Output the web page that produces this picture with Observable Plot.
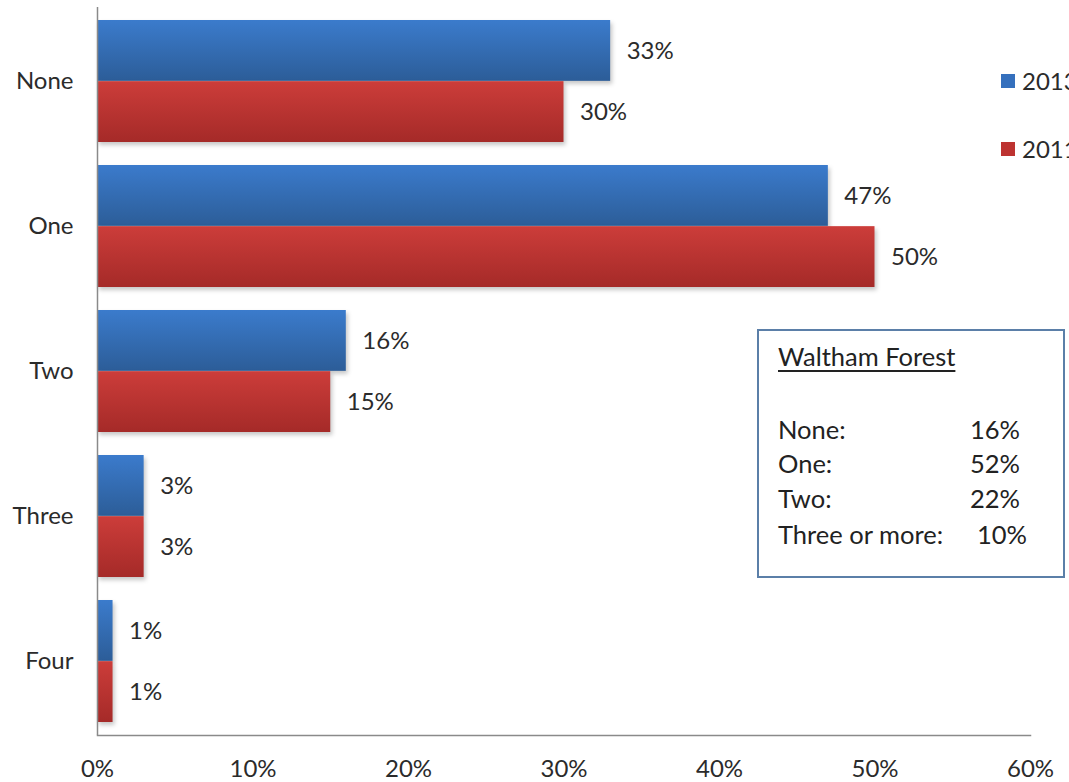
<!DOCTYPE html>
<html>
<head>
<meta charset="utf-8">
<script src="https://cdn.jsdelivr.net/npm/d3@7"></script>
<script src="https://cdn.jsdelivr.net/npm/@observablehq/plot@0.6"></script>
<style>
  html, body { margin: 0; padding: 0; background: #fff; }
  #wrap { position: relative; width: 1069px; height: 782px; overflow: hidden; font-family: Lato, "Open Sans", sans-serif; color: #2b2b2b; }
  .leg { position: absolute; font-size: 24px; line-height: 1; white-space: nowrap; }
  .sw { position: absolute; width: 14px; height: 14px; }
  #box { position: absolute; left: 757px; top: 329px; width: 304px; height: 245px; border: 2px solid #5b7fa8; background: #fff; }
  .bt { position: absolute; font-size: 25.5px; line-height: 1; white-space: nowrap; color: #222; }
</style>
</head>
<body>
<div id="wrap"></div>
<script>
const categories = ["None", "One", "Two", "Three", "Four"];
const series = ["2013", "2011"];
const values2013 = [33, 47, 16, 3, 1];
const values2011 = [30, 50, 15, 3, 1];
const xTicks = [0, 10, 20, 30, 40, 50, 60];
const boxTitle = "Waltham Forest";
const boxLabels = ["None:", "One:", "Two:", "Three or more:"];
const boxValues = ["16%", "52%", "22%", "10%"];

const data = categories.map((c, i) => ({cat: c, v2013: values2013[i], v2011: values2011[i]}));

const W = 1069, H = 782, mT = 7, mB = 47, mL = 97, mR = 39;
const pIn = 0.16, pOut = 0.08;
const step = (H - mT - mB) / (categories.length - pIn + 2 * pOut);
const bw = step * (1 - pIn);
const half = bw / 2;

const plot = Plot.plot({
  width: W, height: H,
  marginTop: mT, marginBottom: mB, marginLeft: mL, marginRight: mR,
  style: {fontFamily: "Lato, 'Open Sans', sans-serif", fontSize: "24px", color: "#2b2b2b", background: "#fff", overflow: "visible"},
  x: {domain: [0, 60]},
  y: {domain: categories, paddingInner: pIn, paddingOuter: pOut},
  marks: [
    Plot.barX(data, {x: "v2013", y: "cat", fill: "url(#g2013)", insetBottom: half}),
    Plot.barX(data, {x: "v2011", y: "cat", fill: "url(#g2011)", insetTop: half}),
    Plot.text(data, {x: "v2013", y: "cat", text: d => d.v2013 + "%", dx: 16, dy: -half / 2, textAnchor: "start", fill: "#2b2b2b"}),
    Plot.text(data, {x: "v2011", y: "cat", text: d => d.v2011 + "%", dx: 16, dy: half / 2, textAnchor: "start", fill: "#2b2b2b"}),
    Plot.ruleX([0], {stroke: "#8a8a8a", strokeWidth: 1.5}),
    Plot.frame({anchor: "bottom", stroke: "#8a8a8a", strokeWidth: 1.5}),
    Plot.axisY({tickSize: 0, tickPadding: 24, label: null}),
    Plot.axisX({ticks: xTicks, tickSize: 0, tickPadding: 24, tickFormat: d => d + "%", label: null})
  ]
});

const svg = d3.select(plot);
const defs = svg.insert("defs", ":first-child");
function grad(id, top, bottom) {
  const g = defs.append("linearGradient").attr("id", id).attr("x1", 0).attr("y1", 0).attr("x2", 0).attr("y2", 1);
  g.append("stop").attr("offset", "0%").attr("stop-color", top);
  g.append("stop").attr("offset", "100%").attr("stop-color", bottom);
}
grad("g2013", "#3b7bcc", "#2c5d98");
grad("g2011", "#cc3d3a", "#a52a28");
svg.selectAll("g[aria-label=bar]").style("filter", "drop-shadow(2px 3px 2px rgba(0,0,0,0.22))");

const wrap = document.getElementById("wrap");
wrap.appendChild(plot);

// legend (HTML overlay, cut by the right edge as in the reference)
const legColors = {"2013": "#3570bd", "2011": "#bd3331"};
const legTops = [74, 142];
series.forEach((s, i) => {
  const sw = document.createElement("div");
  sw.className = "sw";
  sw.style.left = "1001px"; sw.style.top = legTops[i] + "px";
  sw.style.background = legColors[s];
  wrap.appendChild(sw);
  const t = document.createElement("div");
  t.className = "leg";
  t.style.left = "1022px"; t.style.top = (legTops[i] - 5) + "px";
  t.textContent = s;
  wrap.appendChild(t);
});

// annotation box
const box = document.createElement("div");
box.id = "box";
wrap.appendChild(box);
function bt(txt, left, top, extra) {
  const d = document.createElement("div");
  d.className = "bt";
  d.style.left = left + "px"; d.style.top = top + "px";
  d.textContent = txt;
  if (extra) Object.assign(d.style, extra);
  wrap.appendChild(d);
}
bt(boxTitle, 778, 344, {textDecoration: "underline", textUnderlineOffset: "4px"});
const rowTops = [417, 451, 486, 522];
boxLabels.forEach((l, i) => {
  bt(l, 778, rowTops[i]);
  bt(boxValues[i], i === 3 ? 977 : 970, rowTops[i]);
});
</script>
</body>
</html>
